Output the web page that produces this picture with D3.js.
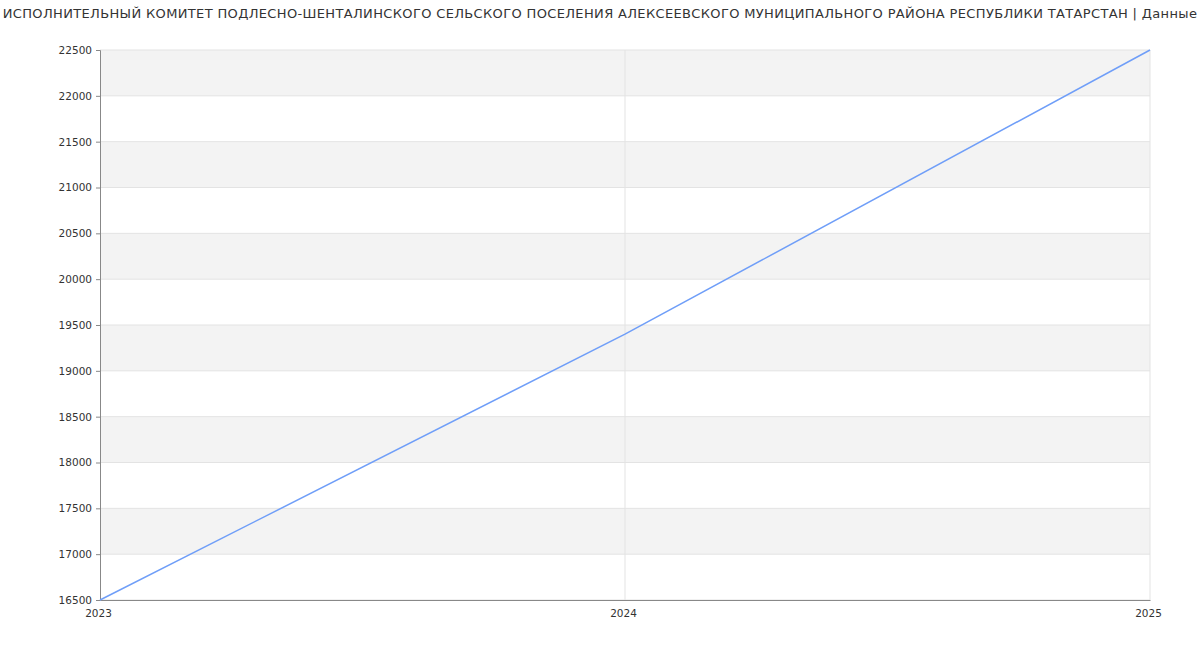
<!DOCTYPE html>
<html lang="ru">
<head>
  <meta charset="utf-8"/>
  <title>Chart</title>
  <script src="https://d3js.org/d3.v7.min.js"></script>
  <style>
  body { margin: 0; background: #fff; }
  text { font-family: "DejaVu Sans", sans-serif; }
  .title { font-size: 13px; fill: #333; letter-spacing: 0.35px; }
  .tick text { font-size: 10.5px; fill: #333; }
  .grid line { stroke: #e3e3e3; }
  </style>
</head>
<body>
<svg id="chart" width="1200" height="650"></svg>
<script>
  // data
  const years = [2023, 2024, 2025];
  const values = [16500, 19400, 22500];
  const yTicks = [16500, 17000, 17500, 18000, 18500, 19000, 19500, 20000, 20500, 21000, 21500, 22000, 22500];
  const titlePrefix = "Динамика доходов";
  const titleCore = "ИСПОЛНИТЕЛЬНЫЙ КОМИТЕТ ПОДЛЕСНО-ШЕНТАЛИНСКОГО СЕЛЬСКОГО ПОСЕЛЕНИЯ АЛЕКСЕЕВСКОГО МУНИЦИПАЛЬНОГО РАЙОНА РЕСПУБЛИКИ ТАТАРСТАН | Данные";
  const titleSuffix = "ФНС";

  const svg = d3.select("#chart");
  const margin = {top: 50, right: 50, bottom: 50, left: 100};
  const width = 1200 - margin.left - margin.right;
  const height = 650 - margin.top - margin.bottom;
  const g = svg.append("g")
    .attr("transform", "translate(" + margin.left + "," + margin.top + ")");

  const x = d3.scaleLinear().domain([2023, 2025]).range([0, width]);
  const y = d3.scaleLinear().domain([16500, 22500]).range([height, 0]);

  // alternating bands
  const bands = yTicks.slice(0, -1).map((v, i) => [v, yTicks[i + 1]]);
  g.selectAll("rect.band").data(bands)
    .enter()
    .append("rect")
    .attr("class", "band")
    .attr("x", 0)
    .attr("width", width)
    .attr("y", d => y(d[1]))
    .attr("height", d => y(d[0]) - y(d[1]))
    .style("fill", (d, i) => (bands.length - 1 - i) % 2 === 0 ? "#f3f3f3" : "#fff");

  // horizontal grid
  g.append("g").attr("class", "grid")
    .selectAll("line").data(yTicks)
    .enter()
    .append("line")
    .attr("x1", 0).attr("x2", width)
    .attr("y1", d => y(d)).attr("y2", d => y(d));
  // vertical grid
  g.append("g").attr("class", "grid")
    .selectAll("line").data(years.slice(1))
    .enter()
    .append("line")
    .attr("x1", d => x(d)).attr("x2", d => x(d))
    .attr("y1", 0).attr("y2", height);

  // axes
  const yAxis = g.append("g")
    .call(d3.axisLeft(y).tickValues(yTicks).tickSize(4).tickPadding(4).tickFormat(d3.format("d")));
  yAxis.select(".domain").attr("stroke", "#888");
  yAxis.selectAll(".tick line").attr("stroke", "#888");

  const xAxis = g.append("g")
    .attr("transform", "translate(0," + height + ")")
    .call(d3.axisBottom(x).tickValues(years).tickSize(0).tickPadding(10).tickFormat(d3.format("d")));
  xAxis.select(".domain").attr("stroke", "#888");
  xAxis.selectAll(".tick text").attr("dx", "-2");

  // line
  const line = d3.line().x((d, i) => x(years[i])).y(d => y(d));
  g.append("path")
    .datum(values)
    .attr("d", line)
    .style("fill", "none")
    .style("stroke", "#6f9ef8")
    .style("stroke-width", 1.5);

  // title
  const core = svg.append("text")
    .attr("class", "title")
    .attr("x", 600).attr("y", 18)
    .attr("text-anchor", "middle")
    .text(titleCore);
  const bb = core.node().getBBox();
  svg.append("text")
    .attr("class", "title")
    .attr("x", bb.x - 4).attr("y", 18)
    .attr("text-anchor", "end")
    .text(titlePrefix);
  svg.append("text")
    .attr("class", "title")
    .attr("x", bb.x + bb.width + 6).attr("y", 18)
    .text(titleSuffix);
</script>
</body>
</html>
